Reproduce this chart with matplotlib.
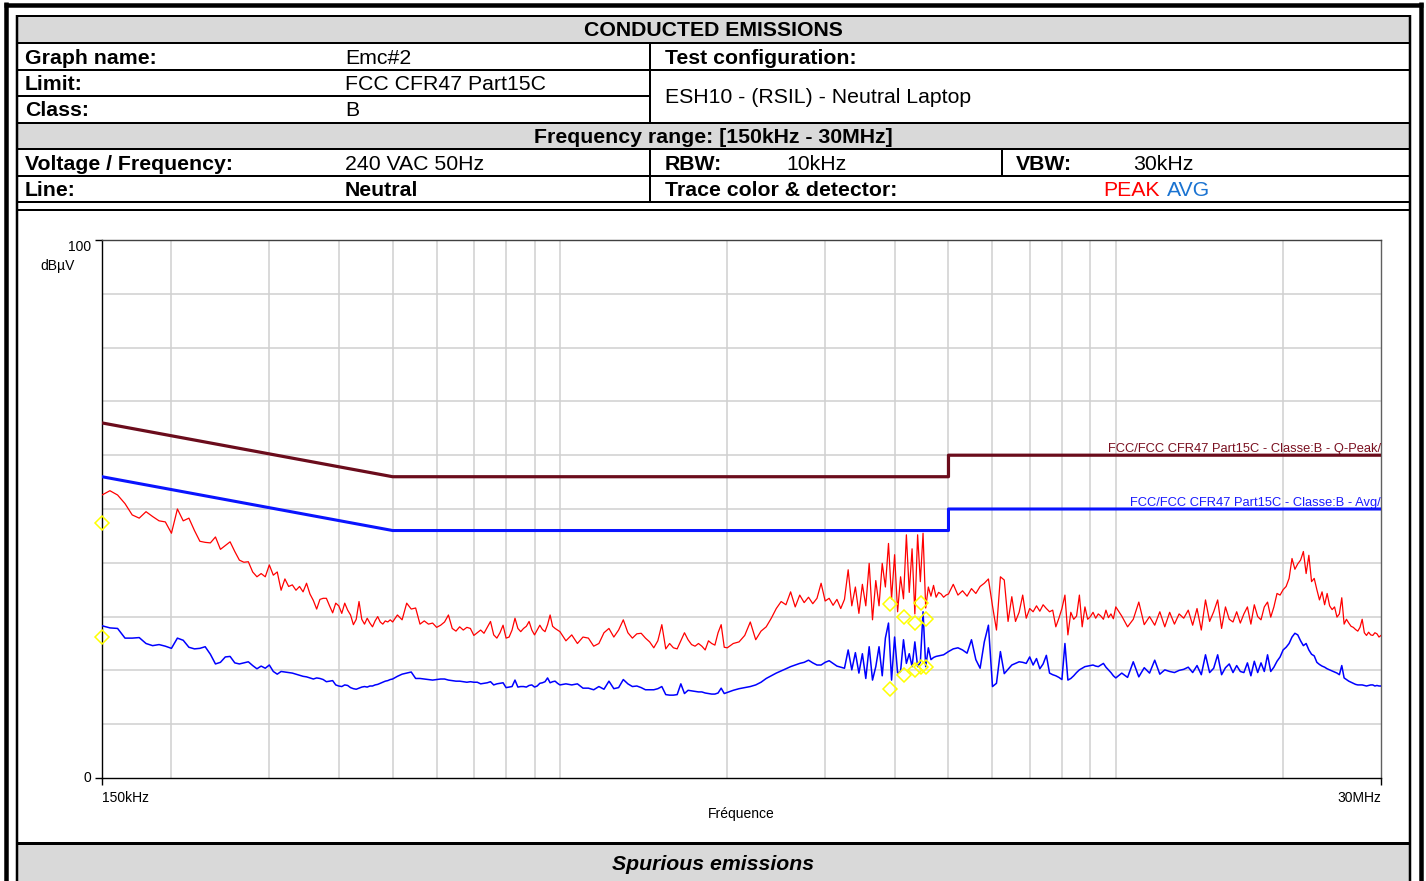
import numpy as np
import matplotlib
matplotlib.use('Agg')
import matplotlib.pyplot as plt
from matplotlib.lines import Line2D
from matplotlib.patches import Rectangle

plt.rcParams['font.family'] = ['Liberation Sans', 'DejaVu Sans']

# receiver sweep: (start MHz, stop MHz, step MHz)
sweep_bands = [(0.150, 0.500, 0.005), (0.51, 1.00, 0.01), (1.025, 2.0, 0.025),
               (2.05, 5.0, 0.05), (5.1, 10.0, 0.1), (10.25, 30.0, 0.25)]

# peak detector, dBuV, one list per sweep band
pk_a = [52.6, 53.4, 52.6, 51.0, 48.9, 48.3, 49.5, 48.6, 47.8, 47.6,
        45.5, 50.0, 47.8, 48.3, 46.0, 44.0, 43.8, 43.7, 44.8, 42.5,
        43.2, 43.9, 42.1, 40.5, 40.1, 40.2, 38.3, 37.4, 38.0, 37.4,
        39.6, 37.7, 38.3, 34.9, 37.0, 35.6, 35.9, 34.9, 35.6, 34.6,
        36.2, 34.2, 33.0, 31.4, 33.2, 33.4, 33.4, 32.0, 30.7, 32.5,
        32.0, 30.6, 32.5, 31.2, 30.3, 28.5, 29.5, 32.8, 29.5, 28.6,
        29.7, 28.8, 28.1, 29.2, 30.0, 29.0, 28.6, 29.2, 29.0, 29.4,
        29.0]
pk_b = [30.3, 29.4, 32.5, 31.4, 31.6, 28.6, 29.2, 28.6, 28.8, 28.0,
        28.4, 29.0, 30.3, 27.8, 27.3, 28.1, 27.5, 28.0, 27.8, 26.5,
        27.0, 27.5, 26.9, 28.0, 29.1, 26.6, 26.0, 27.0, 28.4, 26.0,
        26.2, 27.5, 29.7, 27.8, 27.2, 27.8, 28.2, 29.1, 27.5, 26.6,
        27.5, 28.4, 27.6, 27.2, 28.5, 30.3, 28.2, 27.8, 27.5, 27.2]
pk_c1 = [25.5, 26.6, 25.0, 26.2, 26.0, 24.5, 25.0, 27.0, 27.8, 26.2,
         27.5, 29.4, 27.0, 26.0, 26.8, 26.9, 26.0, 25.3, 24.2, 25.5,
         28.5, 24.0, 25.0, 24.2, 24.0, 25.5, 27.0, 25.7, 24.8, 24.5,
         25.0, 24.5, 23.8, 25.5, 25.0, 24.7, 27.0, 28.5, 24.3, 24.2]
pk_c2 = [25.0, 25.3, 26.5, 29.0, 25.7, 27.3, 28.1, 29.7, 31.5, 32.8,
         32.2, 34.6, 31.8, 34.0, 32.6, 33.6, 32.4, 33.4, 36.2, 32.9,
         33.4, 32.1, 33.2, 31.5, 33.2, 38.7, 32.0, 35.5, 30.6, 36.0,
         32.0, 39.9, 29.4, 36.7, 32.0, 39.9, 35.5, 43.6, 33.3, 41.5,
         30.9, 37.4, 33.3, 45.2, 34.5, 42.6, 30.5, 45.2, 36.5, 45.5,
         31.6, 35.5, 33.8, 35.8, 33.6, 34.5, 34.2, 33.6, 34.0, 34.2]
pk_d1 = [36.0, 34.0, 34.8, 33.8, 35.2, 34.3, 35.6, 36.2, 37.0, 32.0,
         27.5, 37.4, 36.8, 29.1, 33.7, 29.1, 30.8, 34.0, 29.7, 31.5,
         30.9, 32.0, 31.0, 32.2, 31.5, 30.9, 31.2, 28.1, 29.7, 31.5,
         34.0, 26.6, 30.8, 29.5, 30.1, 34.0, 28.1, 31.8, 29.5, 30.0,
         30.8, 29.7, 30.5, 30.1, 29.5, 31.2, 29.8, 30.5, 29.6, 31.8]
pk_d2 = [30.1, 28.1, 29.5, 32.7, 28.5, 30.0, 28.4, 30.9, 28.1, 30.8,
         28.6, 30.5, 29.7, 31.2, 28.4, 31.5, 27.5, 33.1, 29.1, 30.9,
         33.1, 27.8, 31.8, 29.5, 29.0, 30.9, 28.8, 30.5, 31.8, 28.6,
         32.2, 30.0, 29.4, 31.8, 32.7, 29.9, 31.8, 34.3, 34.0, 35.0,
         35.6, 37.1, 40.8, 38.8, 39.8, 40.5, 42.1, 38.0, 41.4, 36.5,
         37.1, 35.0, 33.1, 34.6, 32.2, 34.3, 32.0, 31.3, 31.8, 29.9,
         30.5, 33.5, 28.6, 29.5, 28.8, 28.2, 28.0, 27.6, 27.3, 28.0,
         29.5, 27.0, 26.5, 27.1, 26.6, 26.5, 27.0, 26.8, 26.2, 26.5]

# average detector, dBuV
av_a = [28.3, 27.9, 27.8, 26.0, 26.0, 26.1, 25.0, 24.6, 24.8, 24.5,
        24.1, 26.0, 25.6, 24.3, 24.0, 24.1, 24.4, 23.0, 21.2, 21.5,
        22.5, 22.6, 21.4, 21.2, 21.4, 21.6, 20.9, 20.3, 20.8, 20.4,
        21.0, 19.8, 19.3, 19.8, 19.7, 19.6, 19.5, 19.3, 19.1, 18.9,
        18.8, 18.6, 18.4, 18.6, 18.5, 18.3, 17.9, 18.0, 18.1, 17.3,
        17.1, 17.0, 17.3, 17.2, 16.8, 16.6, 16.5, 16.7, 16.9, 17.0,
        16.9, 17.1, 17.1, 17.3, 17.4, 17.6, 17.8, 18.0, 18.1, 18.3,
        18.4]
av_b = [18.9, 19.3, 19.5, 19.7, 18.5, 18.5, 18.4, 18.3, 18.2, 18.3,
        18.4, 18.4, 18.2, 18.1, 18.0, 18.0, 17.9, 17.8, 17.9, 17.8,
        17.8, 17.5, 17.6, 17.7, 17.9, 17.3, 17.5, 17.6, 17.7, 16.8,
        16.9, 17.0, 18.2, 16.9, 17.0, 17.0, 16.9, 17.2, 17.3, 16.9,
        17.1, 17.6, 17.7, 17.9, 18.6, 17.7, 17.9, 18.0, 17.6, 17.3]
av_c1 = [17.5, 17.3, 17.5, 16.7, 16.7, 16.4, 17.0, 16.5, 18.0, 16.6,
         16.8, 18.3, 17.5, 17.0, 17.1, 16.8, 16.4, 16.4, 16.4, 16.6,
         17.0, 15.5, 15.4, 15.4, 15.5, 17.5, 15.7, 16.3, 16.2, 16.1,
         16.0, 16.0, 15.8, 15.7, 15.6, 15.6, 15.8, 16.7, 15.7, 15.9]
av_c2 = [16.3, 16.6, 16.8, 17.0, 17.3, 17.8, 18.5, 19.0, 19.5, 19.9,
         20.3, 20.7, 21.0, 21.3, 21.5, 21.9, 21.4, 21.0, 21.0, 21.5,
         21.8, 21.3, 20.8, 20.6, 20.4, 23.8, 20.1, 23.3, 19.5, 23.1,
         18.5, 24.4, 18.2, 20.7, 24.4, 19.0, 26.0, 28.8, 18.2, 26.2,
         19.5, 19.8, 25.7, 21.3, 23.1, 20.7, 25.3, 20.7, 21.5, 30.9,
         20.7, 24.2, 22.0, 22.4, 22.6, 22.7, 22.8, 22.9, 23.2, 23.5]
av_d1 = [24.0, 24.2, 23.8, 23.2, 25.7, 22.0, 20.4, 25.3, 28.4, 17.0,
         17.6, 23.5, 19.4, 20.2, 21.0, 21.3, 21.6, 21.5, 21.3, 22.5,
         21.0, 22.2, 20.3, 21.2, 22.8, 19.5, 19.2, 19.0, 18.7, 18.3,
         25.0, 18.2, 18.5, 19.0, 19.6, 20.1, 20.4, 20.7, 20.8, 20.9,
         21.0, 20.8, 20.7, 21.0, 21.3, 20.6, 20.1, 19.6, 19.0, 18.6]
av_d2 = [19.5, 18.7, 21.6, 18.8, 20.5, 19.5, 21.9, 19.3, 20.1, 19.8,
         19.6, 20.0, 20.2, 20.6, 19.6, 20.9, 19.2, 22.9, 19.6, 20.4,
         22.9, 19.2, 20.5, 21.2, 19.6, 20.9, 19.8, 19.6, 21.4, 19.0,
         21.7, 19.6, 21.4, 19.8, 22.9, 19.8, 20.6, 21.7, 22.5, 23.8,
         24.3, 25.0, 26.2, 26.9, 26.6, 25.5, 24.6, 25.0, 23.8, 23.0,
         22.7, 21.5, 21.1, 20.8, 20.6, 20.3, 20.1, 19.9, 19.7, 19.5,
         19.2, 20.9, 18.6, 18.3, 18.0, 17.8, 17.6, 17.4, 17.3, 17.3,
         17.3, 17.2, 17.1, 17.2, 17.3, 17.3, 17.1, 17.2, 17.1, 17.1]

# FCC Part 15 class B limits
lim_freq = [0.15, 0.5, 5.0, 5.0, 30.0]
lim_qp = [66, 56, 56, 60, 60]
lim_av = [56, 46, 46, 50, 50]

# final measurement points
qp_freq = [0.15, 3.92, 4.16, 4.35, 4.46, 4.56]
qp_level = [47.4, 32.4, 30.0, 28.9, 32.5, 29.5]
av_freq = [0.15, 3.92, 4.16, 4.35, 4.46, 4.56]
av_level = [26.2, 16.5, 19.1, 20.1, 20.7, 20.6]

freq = np.concatenate([np.arange(a, b + s / 2, s) for a, b, s in sweep_bands])
peak = np.array(pk_a + pk_b + pk_c1 + pk_c2 + pk_d1 + pk_d2)
avg = np.array(av_a + av_b + av_c1 + av_c2 + av_d1 + av_d2)

W, H = 1426, 881
fig = plt.figure(figsize=(W / 100, H / 100), dpi=100)


def fx(x):
    return x / W


def fy(y):
    return 1 - y / H


def hline(y, x0, x1, w=2.0):
    fig.add_artist(Line2D([fx(x0), fx(x1)], [fy(y), fy(y)], lw=w * 0.72,
                          color='black', solid_capstyle='butt'))


def vline(x, y0, y1, w=2.0):
    fig.add_artist(Line2D([fx(x), fx(x)], [fy(y0), fy(y1)], lw=w * 0.72,
                          color='black', solid_capstyle='butt'))


def fill(x0, y0, x1, y1, color='#d9d9d9'):
    fig.add_artist(Rectangle((fx(x0), fy(y1)), fx(x1) - fx(x0), fy(y0) - fy(y1),
                             fc=color, ec='none'))


def put(x, y, s, bold=False, ha='left', color='black', style='normal'):
    fig.text(fx(x), fy(y + 1.5), s, ha=ha, va='center', color=color, fontsize=15.3,
             fontweight='bold' if bold else 'normal', fontstyle=style)


# header table
fill(17, 16, 1409, 43)
fill(17, 122, 1409, 149)
fill(17, 843, 1409, 881)

hline(4.5, 4, 1423, 4.5)
vline(6, 2, 881, 4.5)
vline(1420.5, 2, 881, 4.5)
for y in [16, 43, 69.5, 122.5, 149, 176, 202, 210]:
    hline(y, 17, 1409.5)
hline(96, 17, 650)
hline(843, 17, 1409.5, 3)
vline(17, 15, 881, 2.5)
vline(1409.5, 15, 881, 2.5)
vline(650, 43, 122.5)
vline(650, 149, 202)
vline(1002, 149, 176)

put(713, 29.5, 'CONDUCTED EMISSIONS', bold=True, ha='center')
put(25, 56.5, 'Graph name:', bold=True)
put(345, 56.5, 'Emc#2')
put(665, 56.5, 'Test configuration:', bold=True)
put(25, 83, 'Limit:', bold=True)
put(345, 83, 'FCC CFR47 Part15C')
put(25, 109, 'Class:', bold=True)
put(345, 109, 'B')
put(665, 96, 'ESH10 - (RSIL) - Neutral Laptop')
put(713, 136, 'Frequency range: [150kHz - 30MHz]', bold=True, ha='center')
put(25, 162.5, 'Voltage / Frequency:', bold=True)
put(345, 162.5, '240 VAC 50Hz')
put(665, 162.5, 'RBW:', bold=True)
put(786, 162.5, '10kHz')
put(1016, 162.5, 'VBW:', bold=True)
put(1133, 162.5, '30kHz')
put(25, 189, 'Line:', bold=True)
put(345, 189, 'Neutral', bold=True)
put(665, 189, 'Trace color & detector:', bold=True)
put(1103, 189, 'PEAK', color='#ff0000')
put(1167, 189, 'AVG', color='#1a73d1')
put(713, 863, 'Spurious emissions', bold=True, ha='center', style='italic')

# spectrum plot
ax = fig.add_axes([fx(102), fy(778), (1381 - 102) / W, (778 - 240) / H])
ax.set_xscale('log')
ax.set_xlim(0.15, 30)
ax.set_ylim(0, 100)

ax.plot(freq, peak, color='#ff0000', lw=0.9, zorder=3)
ax.plot(freq, avg, color='#0000ff', lw=1.1, zorder=3)
ax.plot(lim_freq, lim_qp, color='#6b0c1c', lw=2.3, zorder=4)
ax.plot(lim_freq, lim_av, color='#0a14ff', lw=2.2, zorder=4)
ax.plot(qp_freq, qp_level, 'D', ms=7, mfc='none', mec='#ffff00', mew=1.1,
        zorder=5, clip_on=False)
ax.plot(av_freq, av_level, 'D', ms=7, mfc='none', mec='#ffff00', mew=1.1,
        zorder=5, clip_on=False)

ax.annotate('FCC/FCC CFR47 Part15C - Classe:B - Q-Peak/', xy=(30, 60),
            xytext=(0, 0), textcoords='offset points', ha='right', va='bottom',
            fontsize=9.3, color='#7a1020')
ax.annotate('FCC/FCC CFR47 Part15C - Classe:B - Avg/', xy=(30, 50),
            xytext=(0, 0), textcoords='offset points', ha='right', va='bottom',
            fontsize=9.3, color='#1a1aff')

ax.set_xticks([0.15, 30])
ax.set_xticklabels(['150kHz', '30MHz'])
ax.set_xticks([0.2, 0.3, 0.4, 0.5, 0.6, 0.7, 0.8, 0.9, 1, 2, 3, 4, 5, 6, 7, 8, 9,
               10, 20], minor=True)
ax.xaxis.set_minor_formatter(plt.NullFormatter())
ax.set_yticks([0, 100])
ax.set_yticklabels(['0', '100'])
ax.set_yticks(range(10, 100, 10), minor=True)
ax.tick_params(which='major', length=5, width=1, labelsize=10, pad=3)
ax.tick_params(axis='x', which='major', pad=4)
ax.tick_params(which='minor', length=0)
xl = ax.get_xticklabels()
xl[0].set_ha('left')
xl[1].set_ha('right')
yl = ax.get_yticklabels()
yl[0].set_va('center')
yl[1].set_va('top')
ax.grid(which='minor', color='#d0d0d0', lw=1.1)
ax.set_axisbelow(True)
ax.set_xlabel('Fréquence', fontsize=10, labelpad=2)
ax.text(-0.021, 0.951, 'dBµV', transform=ax.transAxes, ha='right', va='center',
        fontsize=10)

ax.spines['left'].set_color('black')
ax.spines['bottom'].set_color('black')
ax.spines['top'].set_color('#404040')
ax.spines['right'].set_color('#606060')
for s in ax.spines.values():
    s.set_linewidth(1.0)

fig.savefig('out.png', dpi=100)
